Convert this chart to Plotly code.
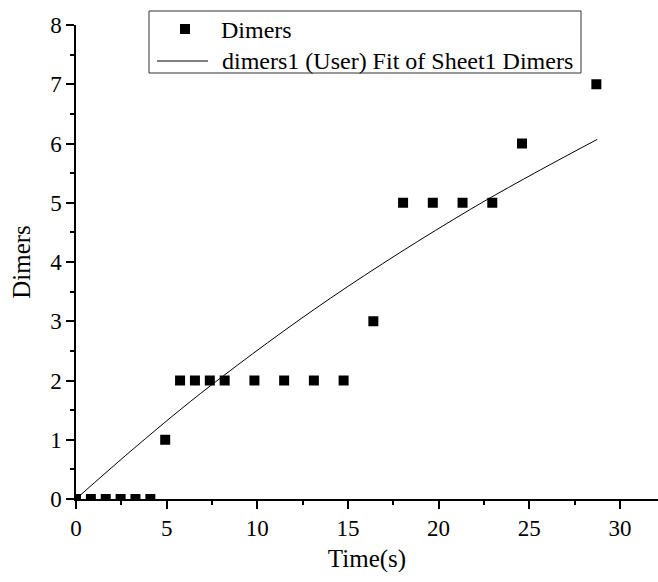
import plotly.graph_objects as go

# Measured dimer counts over time
time_s = [0, 0.82, 1.64, 2.46, 3.28, 4.1, 4.92, 5.74, 6.56, 7.38, 8.2,
          9.84, 11.48, 13.12, 14.76, 16.4, 18.04, 19.68, 21.32, 22.96, 24.6, 28.7]
dimers = [0, 0, 0, 0, 0, 0, 1, 2, 2, 2, 2,
          2, 2, 2, 2, 3, 5, 5, 5, 5, 6, 7]

# User-defined fit curve (sampled)
fit_time = [0, 3.37, 7.41, 14.04, 21.76, 28.75]
fit_dimers = [0, 0.90, 1.91, 3.39, 4.89, 6.07]

series_names = ["Dimers", "dimers1 (User) Fit of Sheet1 Dimers"]

FONT = "Liberation Serif, Times New Roman, serif"
W, H = 658, 582
ML, MR, MT, MB = 76, 0, 25, 83
PW, PH = W - ML - MR, H - MT - MB


def px(x):
    """Pixel column -> paper x."""
    return (x - ML) / PW


def py(y):
    """Pixel row (from top) -> paper y."""
    return (H - MB - y) / PH


fig = go.Figure()
fig.add_trace(go.Scatter(
    x=time_s, y=dimers, mode="markers", name=series_names[0],
    marker=dict(symbol="square", size=10, color="black", line=dict(width=0)),
))
fig.add_trace(go.Scatter(
    x=fit_time, y=fit_dimers, mode="lines", name=series_names[1],
    line=dict(color="black", width=1, shape="spline"),
))

axis_common = dict(
    showgrid=False, zeroline=False, showline=True, linecolor="black", linewidth=1.5,
    ticks="outside", ticklen=8, tickwidth=1.5, tickcolor="black",
    tickfont=dict(family=FONT, size=23, color="black"),
)

fig.update_xaxes(
    range=[0, 32.1], tick0=0, dtick=5,
    minor=dict(ticks="outside", ticklen=4, tickwidth=1.5, tickcolor="black", dtick=2.5),
    title=dict(text="Time(s)", font=dict(family=FONT, size=25, color="black"), standoff=9),
    **axis_common,
)
fig.update_yaxes(
    range=[0, 8], tick0=0, dtick=1,
    minor=dict(ticks="outside", ticklen=4, tickwidth=1.5, tickcolor="black", dtick=0.5),
    title=dict(text="Dimers", font=dict(family=FONT, size=25, color="black"), standoff=12),
    **axis_common,
)

# Boxed legend in the upper part of the plot
shapes = [
    dict(type="rect", xref="paper", yref="paper",
         x0=px(149), x1=px(581), y0=py(73), y1=py(11),
         line=dict(color="#333333", width=1), fillcolor="white", layer="above"),
    dict(type="rect", xref="paper", yref="paper",
         x0=px(180), x1=px(190), y0=py(34), y1=py(24),
         line=dict(width=0), fillcolor="black", layer="above"),
    dict(type="line", xref="paper", yref="paper",
         x0=px(157), x1=px(208), y0=py(61), y1=py(61),
         line=dict(color="black", width=1), layer="above"),
]
annotations = [
    dict(text=series_names[0], xref="paper", yref="paper", x=px(219), y=py(30),
         xanchor="left", yanchor="middle", showarrow=False,
         font=dict(family=FONT, size=24, color="black")),
    dict(text=series_names[1], xref="paper", yref="paper", x=px(220), y=py(61),
         xanchor="left", yanchor="middle", showarrow=False,
         font=dict(family=FONT, size=24, color="black")),
]

fig.update_layout(
    width=W, height=H,
    margin=dict(l=ML, r=MR, t=MT, b=MB),
    paper_bgcolor="white", plot_bgcolor="white",
    showlegend=False,
    shapes=shapes, annotations=annotations,
)

fig.write_html("out.html")
